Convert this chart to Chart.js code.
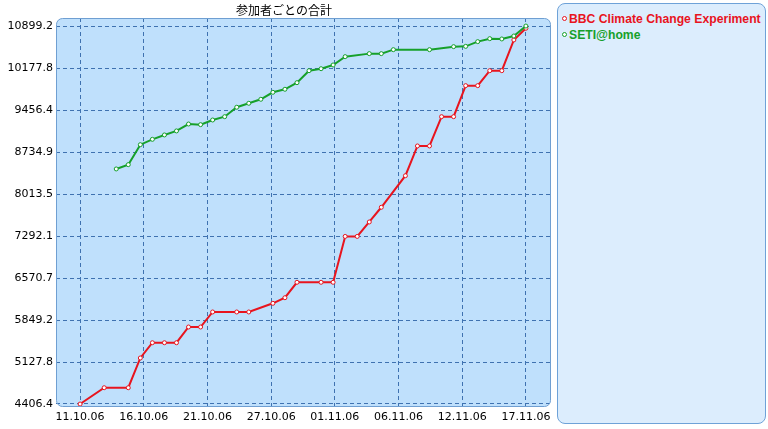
<!DOCTYPE html>
<html>
<head>
<meta charset="utf-8">
<script src="https://cdn.jsdelivr.net/npm/chart.js@4/dist/chart.umd.min.js"></script>
<style>
  body { margin: 0; background: #ffffff; }
  #wrap { position: relative; width: 768px; height: 429px; }
  #chart { position: absolute; left: 0; top: 0; }
  #legend {
    position: absolute; left: 557px; top: 3px; width: 207px; height: 419px;
    background: #dcedfd; border: 1px solid #6ea2d8; border-radius: 8px;
    font-family: "Liberation Sans", Arial, sans-serif; font-weight: bold; font-size: 12.2px;
  }
  .item { position: absolute; left: 4px; white-space: nowrap; }
  .dot { display: inline-block; width: 3px; height: 3px; border: 1px solid; border-radius: 50%; background: #fff; margin-right: 2px; vertical-align: 2px; }
</style>
</head>
<body>
<div id="wrap">
  <canvas id="chart" width="768" height="429"></canvas>
  <div id="legend"></div>
</div>
<script>
// days counted from 11.10.06
var days = [];
for (var d = 0; d <= 37; d++) days.push(d);

var bbcValues = [4406, null, 4686, null, 4686, 5197, 5459, 5459, 5459, 5729,
                 5729, 5987, null, 5987, 5987, null, 6136, 6232, 6497, null,
                 6497, 6497, 7285, 7285, 7533, 7786, null, 8328, 8839, 8839,
                 9342, 9342, 9875, 9875, 10132, 10132, 10660, 10861];

var setiValues = [null, null, null, 8444, 8518, 8861, 8953, 9028, 9097, 9216,
                  9205, 9285, 9342, 9504, 9572, 9641, 9761, 9813, 9926, 10132,
                  10166, 10230, 10373, null, 10425, 10425, 10493, null, null, 10493,
                  null, 10545, 10550, 10631, 10682, 10677, 10728, 10899];

var xTickLabels = ['11.10.06', '16.10.06', '21.10.06', '27.10.06', '01.11.06', '06.11.06', '12.11.06', '17.11.06'];
var yTickValues = [4406.4, 5127.8, 5849.2, 6570.7, 7292.1, 8013.5, 8734.9, 9456.4, 10177.8, 10899.2];

var seriesNames = ['BBC Climate Change Experiment', 'SETI@home'];
var seriesColors = ['#e8141e', '#16a02a'];

function toPoints(vals) {
    return days.map(function (d, i) { return { x: d, y: vals[i] }; });
}

// plot background + rounded border + title
var frame = {
    id: 'frame',
    beforeDraw: function (chart) {
        var a = chart.chartArea, c = chart.ctx;
        c.save();
        c.beginPath();
        c.roundRect(a.left + 0.5, a.top + 0.5, a.right - a.left, a.bottom - a.top, 6);
        c.fillStyle = '#bfe0fc';
        c.fill();
        c.restore();
    },
    afterDraw: function (chart) {
        var a = chart.chartArea, c = chart.ctx;
        c.save();
        c.beginPath();
        c.roundRect(a.left + 0.5, a.top + 0.5, a.right - a.left, a.bottom - a.top, 6);
        c.strokeStyle = '#6f9fd2';
        c.lineWidth = 1;
        c.stroke();
        c.fillStyle = '#000';
        c.font = '12px "Noto Sans CJK JP", sans-serif';
        c.textAlign = 'center';
        c.textBaseline = 'middle';
        c.fillText('参加者ごとの合計', 284, 10);
        c.restore();
    }
};

var gridStyle = { color: '#3f72b0', lineWidth: 1, drawTicks: false, borderDash: [4, 3] };
var borderStyle = { display: false, dash: [4, 3] };

new Chart(document.getElementById('chart'), {
    type: 'line',
    data: {
        datasets: [{
            label: seriesNames[0],
            data: toPoints(bbcValues),
            borderColor: seriesColors[0],
            backgroundColor: '#ffffff',
            borderWidth: 2,
            pointRadius: 2,
            pointBorderWidth: 1,
            spanGaps: true,
            order: 2
        }, {
            label: seriesNames[1],
            data: toPoints(setiValues),
            borderColor: seriesColors[1],
            backgroundColor: '#ffffff',
            borderWidth: 2,
            pointRadius: 2,
            pointBorderWidth: 1,
            spanGaps: true,
            order: 1
        }]
    },
    options: {
        responsive: false,
        animation: false,
        layout: { padding: { top: 18, right: 218, left: 0, bottom: 0 } },
        plugins: { legend: { display: false }, title: { display: false }, tooltip: { enabled: false } },
        scales: {
            x: {
                type: 'linear',
                min: -2,
                max: 39,
                border: borderStyle,
                grid: gridStyle,
                afterBuildTicks: function (scale) {
                    scale.ticks = xTickLabels.map(function (l, i) { return { value: i * 37 / 7 }; });
                },
                afterFit: function (scale) { scale.height = 23; },
                ticks: {
                    padding: 5,
                    color: '#000',
                    maxRotation: 0,
                    autoSkip: false,
                    font: { family: 'DejaVu Sans', size: 11 },
                    callback: function (v, i) { return xTickLabels[i]; }
                }
            },
            y: {
                type: 'linear',
                min: 4372,
                max: 11037,
                border: borderStyle,
                grid: gridStyle,
                afterBuildTicks: function (scale) {
                    scale.ticks = yTickValues.map(function (v) { return { value: v }; });
                },
                afterFit: function (scale) { scale.width = 56; },
                ticks: {
                    padding: 3,
                    color: '#000',
                    autoSkip: false,
                    font: { family: 'DejaVu Sans', size: 11 },
                    callback: function (v, i) { return yTickValues[i].toFixed(1); }
                }
            }
        }
    },
    plugins: [frame]
});

// legend box
var legend = document.getElementById('legend');
seriesNames.forEach(function (name, i) {
    var el = document.createElement('div');
    el.className = 'item';
    el.style.top = (8 + i * 16) + 'px';
    el.style.color = seriesColors[i];
    el.innerHTML = '<span class="dot" style="border-color:' + seriesColors[i] + '"></span>' + name;
    legend.appendChild(el);
});
</script>
</body>
</html>
